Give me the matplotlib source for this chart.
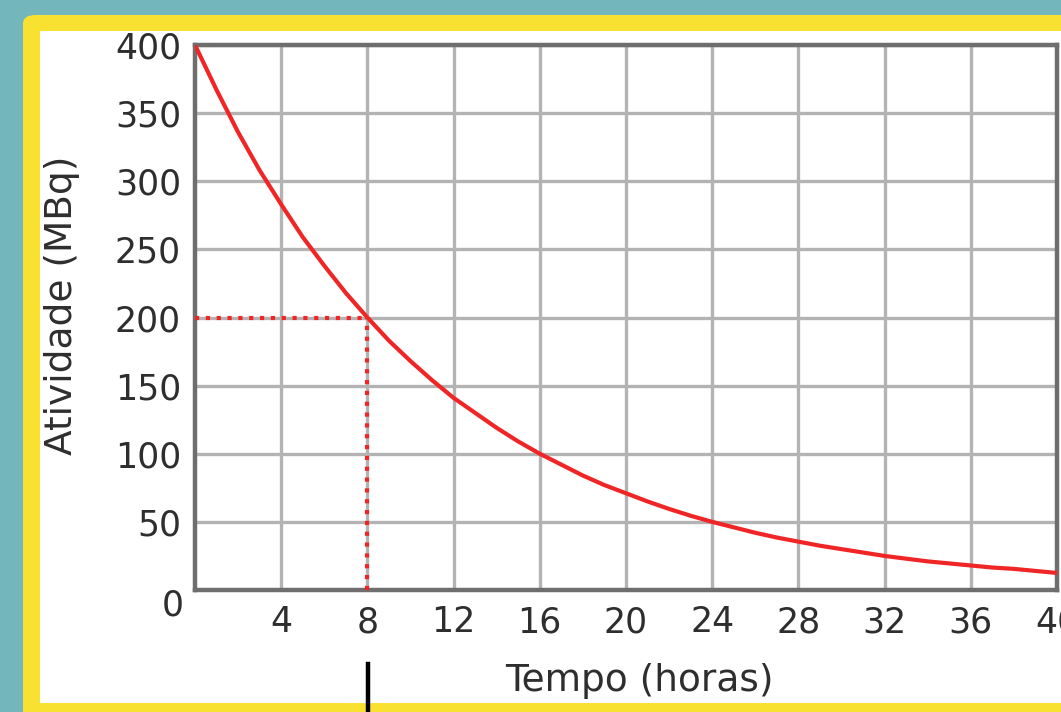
import matplotlib
matplotlib.use("Agg")
import matplotlib.pyplot as plt
from matplotlib.patches import FancyBboxPatch, Rectangle
from matplotlib.lines import Line2D

# decay curve (hours, MBq)
tempo = list(range(0, 41))
atividade = [400, 367, 336, 308, 283, 259, 238, 218, 200, 183,
             168, 154, 141, 130, 119, 109, 100, 92, 84, 77,
             71, 65, 59.5, 54.5, 50, 46, 42, 38.5, 35.5, 32.5,
             30, 27.5, 25, 23, 21, 19.5, 18, 16.5, 15.5, 14, 12.5]
x_ticks = [4, 8, 12, 16, 20, 24, 28, 32, 36, 40]
y_ticks = [50, 100, 150, 200, 250, 300, 350, 400]
meia_vida = 8
metade = 200

W, H = 1061, 712
TEAL = "#73b6bc"
YELLOW = "#f9e131"
RED = "#f02626"
TXT = "#2e2e2e"

plt.rcParams['font.family'] = ['DejaVu Sans']

fig = plt.figure(figsize=(W / 100, H / 100), dpi=100, facecolor=TEAL)

# yellow frame + white panel
fig.patches.append(FancyBboxPatch((23 / W, -20 / H), 1100 / W, (H - 15 + 20) / H,
                                  boxstyle="round,pad=0,rounding_size=0.012",
                                  transform=fig.transFigure, fc=YELLOW, ec="none",
                                  zorder=-3))
fig.patches.append(Rectangle((40 / W, 9 / H), 1100 / W, (H - 31 - 9) / H,
                             transform=fig.transFigure, fc="white", ec="none",
                             zorder=-2))

ax = fig.add_axes([195 / W, 1 - 590 / H, (1057 - 195) / W, (590 - 45) / H])
ax.set_facecolor("white")
ax.set_xlim(0, 40)
ax.set_ylim(0, 400)

ax.plot(tempo, atividade, color=RED, lw=3, solid_capstyle="round", zorder=3)
ax.plot([0, meia_vida], [metade, metade], color=RED, lw=3, ls=(0, (1, 1.6)), zorder=4)
ax.plot([meia_vida, meia_vida], [0, metade], color=RED, lw=3, ls=(0, (1, 1.6)), zorder=4)

ax.set_xticks(x_ticks)
ax.set_yticks(y_ticks)
ax.grid(True, color="#b3b3b3", lw=2.4, zorder=0)
ax.tick_params(length=0, labelsize=25, colors=TXT)
ax.tick_params(axis="x", pad=11)
ax.tick_params(axis="y", pad=10)
for s in ax.spines.values():
    s.set_color("#6e6e6e")
    s.set_linewidth(3.2)

ax.text(173 / W, 1 - 606 / H, "0", transform=fig.transFigure, ha="center", va="center",
        fontsize=25, color=TXT)
ax.set_xlabel("Tempo (horas)", fontsize=27, color=TXT, va="center", ha="center")
ax.set_ylabel("Atividade (MBq)", fontsize=27, color=TXT, va="center", ha="center")
ax.xaxis.set_label_coords(0.516, -0.167)
ax.yaxis.set_label_coords(-0.154, 0.523)

# black marker under the 8 h tick
fig.add_artist(Line2D([368 / W, 368 / W], [0, 1 - 664 / H], transform=fig.transFigure,
                      color="black", lw=3.2))

fig.savefig("out.png", dpi=100, facecolor=TEAL)
